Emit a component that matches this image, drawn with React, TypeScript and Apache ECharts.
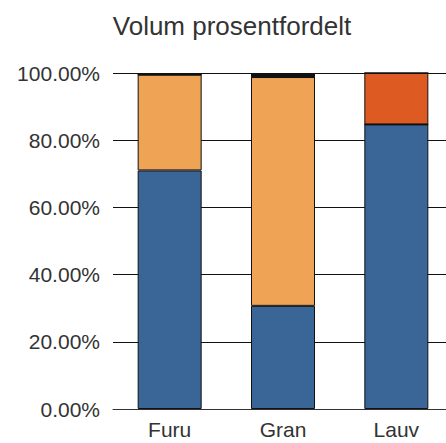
import React, { useEffect, useRef } from "react";
import * as echarts from "echarts";

const categories = ["Furu", "Gran", "Lauv"];
const seriesNames = ["Blå", "Oransje", "Rød", "Svart"];
const blueValues = [71.0, 30.7, 84.7];
const orangeValues = [28.5, 68.1, 0];
const redValues = [0, 0, 15.3];
const blackValues = [0.5, 1.2, 0];
const yTicks = { min: 0, max: 100, interval: 20 };
const colors = ["#3a6597", "#efa355", "#dd5a22", "#111111"];

export default function App() {
  const ref = useRef<HTMLDivElement>(null);
  useEffect(() => {
    document.body.style.margin = "0";
    document.body.style.overflow = "hidden";
    const chart = echarts.init(ref.current!, null, { renderer: "svg" });
    const font = "'Liberation Sans', Arial, sans-serif";
    const all = [blueValues, orangeValues, redValues, blackValues];
    chart.setOption({
      animation: false,
      title: {
        text: "Volum prosentfordelt",
        left: 227,
        top: 8,
        textAlign: "center",
        textStyle: { fontFamily: font, fontSize: 26, fontWeight: "normal", color: "#333" },
      },
      grid: { left: 113, right: 7, top: 73, bottom: 34, outerBoundsMode: "none" },
      xAxis: {
        type: "category",
        data: categories,
        axisTick: { show: false },
        axisLine: { lineStyle: { color: "#333", width: 1 } },
        axisLabel: { fontFamily: font, fontSize: 21, color: "#333", margin: 10 },
      },
      yAxis: {
        type: "value",
        min: yTicks.min,
        max: yTicks.max,
        interval: yTicks.interval,
        axisLine: { show: false },
        axisTick: { show: false },
        axisLabel: {
          fontFamily: font,
          fontSize: 21,
          color: "#333",
          margin: 13,
          formatter: (v: number) => v.toFixed(2) + "%",
        },
        splitLine: { lineStyle: { color: "#111", width: 1 } },
      },
      series: all.map((d, i) => ({
        name: seriesNames[i],
        type: "bar",
        stack: "total",
        data: d,
        barWidth: 64,
        itemStyle: { color: colors[i], borderColor: "#111", borderWidth: 1 },
      })),
    });
    return () => chart.dispose();
  }, []);
  return (
    <div style={{ width: 446, height: 443, overflow: "hidden" }}>
      <div ref={ref} style={{ width: 460, height: 443 }} />
    </div>
  );
}
